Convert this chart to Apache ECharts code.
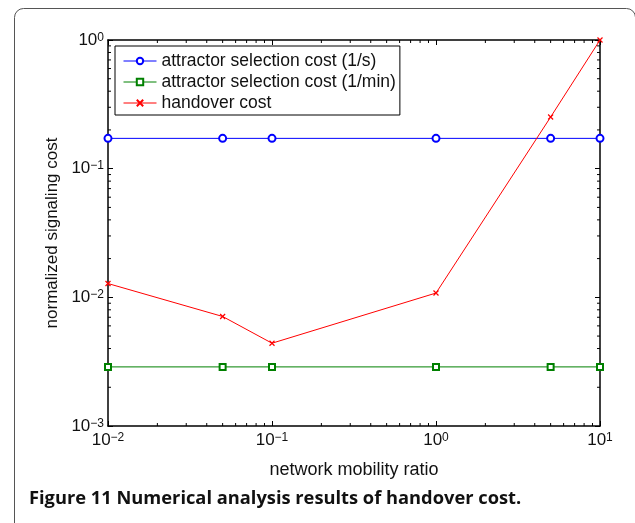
<!DOCTYPE html>
<html>
<head>
<meta charset="utf-8">
<script src="https://cdn.jsdelivr.net/npm/echarts@6/dist/echarts.min.js"></script>
<style>
html,body{margin:0;padding:0;background:#fff;}
#c{width:635px;height:523px;}
</style>
</head>
<body>
<div id="c"></div>
<script>
// ---- data ----
const xValues = [0.01, 0.05, 0.1, 1, 5, 10];
const costPerSecond = [0.172, 0.172, 0.172, 0.172, 0.172, 0.172];
const costPerMinute = [0.00288, 0.00288, 0.00288, 0.00288, 0.00288, 0.00288];
const handoverCost = [0.0128, 0.0071, 0.0044, 0.0108, 0.252, 1.0];
const seriesNames = ['attractor selection cost (1/s)', 'attractor selection cost (1/min)', 'handover cost'];
const xRange = [0.01, 10];
const yRange = [0.001, 1];
const xMinorTicks = [0.02,0.03,0.04,0.05,0.06,0.07,0.08,0.09,0.2,0.3,0.4,0.5,0.6,0.7,0.8,0.9,2,3,4,5,6,7,8,9];
const yMinorTicks = [0.002,0.003,0.004,0.005,0.006,0.007,0.008,0.009,0.02,0.03,0.04,0.05,0.06,0.07,0.08,0.09,0.2,0.3,0.4,0.5,0.6,0.7,0.8,0.9];
const xAxisTitle = 'network mobility ratio';
const yAxisTitle = 'normalized signaling cost';
const caption = 'Figure 11 Numerical analysis results of handover cost.';

const FONT = '"Liberation Sans", Arial, Helvetica, sans-serif';
function pow10Label(v) {
  const e = Math.round(Math.log10(v));
  const s = e < 0 ? '\u2212' + (-e) : String(e);
  return '{b|10}{s|' + s + '}';
}
const richLabel = {
  b: { fontSize: 17, fontFamily: FONT, color: '#111', lineHeight: 17, verticalAlign: 'bottom' },
  s: { fontSize: 12, fontFamily: FONT, color: '#111', lineHeight: 12, verticalAlign: 'top', padding: [0, 0, 12, 0] }
};
const crossPath = 'path://M0,0L10,10M10,0L0,10';

const chart = echarts.init(document.getElementById('c'));
const tickLen = 3;
function minorX(params, api) {
  const v = api.value(0);
  const pb = api.coord([v, yRange[0]]);
  const pt = api.coord([v, yRange[1]]);
  const st = { stroke: '#000', lineWidth: 1 };
  return { type: 'group', children: [
    { type: 'line', shape: { x1: pb[0], y1: pb[1], x2: pb[0], y2: pb[1] - tickLen }, style: st },
    { type: 'line', shape: { x1: pt[0], y1: pt[1], x2: pt[0], y2: pt[1] + tickLen }, style: st }
  ]};
}
function minorY(params, api) {
  const v = api.value(1);
  const pl = api.coord([xRange[0], v]);
  const pr = api.coord([xRange[1], v]);
  const st = { stroke: '#000', lineWidth: 1 };
  return { type: 'group', children: [
    { type: 'line', shape: { x1: pl[0], y1: pl[1], x2: pl[0] + tickLen, y2: pl[1] }, style: st },
    { type: 'line', shape: { x1: pr[0], y1: pr[1], x2: pr[0] - tickLen, y2: pr[1] }, style: st }
  ]};
}

const axisLineStyle = { color: '#000', width: 1.5 };
chart.setOption({
  animation: false,
  backgroundColor: '#fff',
  grid: { left: 108, right: 35, top: 40, bottom: 97, containLabel: false },
  graphic: [
    { type: 'rect', left: 12, top: 6, shape: { width: 621, height: 600, r: 9 }, style: { fill: 'none', stroke: '#555', lineWidth: 1 }, z: -10 },
    { type: 'text', left: 29, top: 490, style: { text: caption, font: 'bold 18.3px "Open Sans", "Noto Sans", sans-serif', fill: '#111' } }
  ],
  legend: {
    data: seriesNames,
    orient: 'vertical',
    left: 115, top: 46,
    backgroundColor: '#fff',
    borderColor: '#000', borderWidth: 1, borderRadius: 0,
    padding: [6, 4, 3, 8],
    itemWidth: 33, itemHeight: 8, itemGap: 3,
    lineStyle: { width: 1 },
    textStyle: { fontSize: 17.5, fontFamily: FONT, color: '#111', lineHeight: 14 }
  },
  xAxis: [
    { type: 'log', logBase: 10, min: xRange[0], max: xRange[1], position: 'bottom',
      name: xAxisTitle, nameLocation: 'middle', nameGap: 29,
      nameTextStyle: { fontSize: 18, fontFamily: FONT, color: '#111' },
      axisLine: { lineStyle: axisLineStyle },
      axisTick: { inside: true, length: 5, lineStyle: { color: '#000', width: 1 } },
      axisLabel: { formatter: pow10Label, rich: richLabel, margin: 6 },
      splitLine: { show: false } },
    { type: 'log', logBase: 10, min: xRange[0], max: xRange[1], position: 'top',
      axisLine: { lineStyle: axisLineStyle },
      axisTick: { inside: true, length: 5, lineStyle: { color: '#000', width: 1 } },
      axisLabel: { show: false }, splitLine: { show: false } }
  ],
  yAxis: [
    { type: 'log', logBase: 10, min: yRange[0], max: yRange[1], position: 'left',
      name: yAxisTitle, nameLocation: 'middle', nameGap: 26,
      nameTextStyle: { fontSize: 17, fontFamily: FONT, color: '#111' },
      axisLine: { lineStyle: axisLineStyle },
      axisTick: { inside: true, length: 5, lineStyle: { color: '#000', width: 1 } },
      axisLabel: { formatter: pow10Label, rich: richLabel, margin: 4 },
      splitLine: { show: false } },
    { type: 'log', logBase: 10, min: yRange[0], max: yRange[1], position: 'right',
      axisLine: { lineStyle: axisLineStyle },
      axisTick: { inside: true, length: 5, lineStyle: { color: '#000', width: 1 } },
      axisLabel: { show: false }, splitLine: { show: false } }
  ],
  series: [
    { name: seriesNames[0], type: 'line', data: xValues.map((x, i) => [x, costPerSecond[i]]),
      symbol: 'emptyCircle', symbolSize: 7, showAllSymbol: true, z: 5,
      lineStyle: { color: '#0000ff', width: 1 }, itemStyle: { color: '#0000ff', borderColor: '#0000ff', borderWidth: 1 } },
    { name: seriesNames[1], type: 'line', data: xValues.map((x, i) => [x, costPerMinute[i]]),
      symbol: 'emptyRect', symbolSize: 6, z: 5,
      lineStyle: { color: '#008000', width: 1 }, itemStyle: { color: '#008000', borderColor: '#008000', borderWidth: 1 } },
    { name: seriesNames[2], type: 'line', data: xValues.map((x, i) => [x, handoverCost[i]]),
      symbol: crossPath, symbolSize: 5, z: 6,
      lineStyle: { color: '#ff0000', width: 1 }, itemStyle: { color: '#ff0000', borderColor: '#ff0000', borderWidth: 1.2 } },
    { type: 'custom', renderItem: minorX, data: xMinorTicks.map(v => [v, yRange[0]]), silent: true, clip: false, z: 3 },
    { type: 'custom', renderItem: minorY, data: yMinorTicks.map(v => [xRange[0], v]), silent: true, clip: false, z: 3 }
  ]
});
</script>
</body>
</html>
